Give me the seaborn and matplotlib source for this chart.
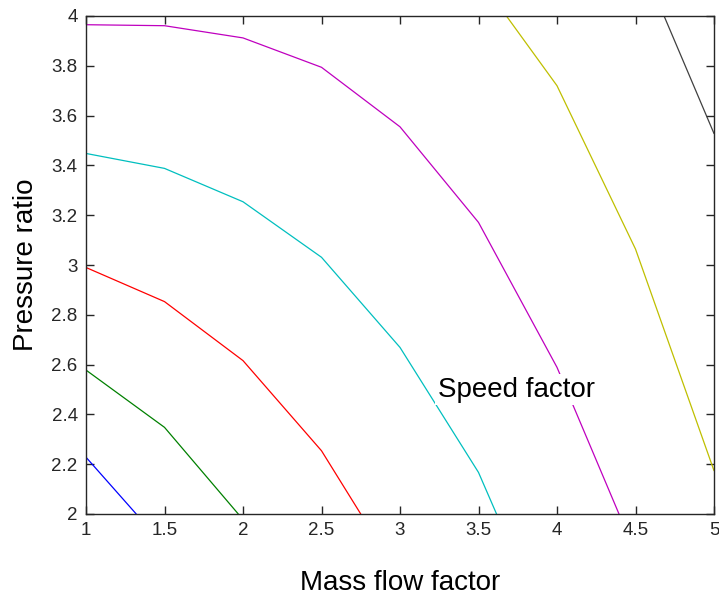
import numpy as np
import pandas as pd
import matplotlib
matplotlib.use("Agg")
import matplotlib.pyplot as plt
import seaborn as sns

# Constant-speed lines of the compressor map: vertices in (mass flow factor, pressure ratio)
speed_levels = ["s1", "s2", "s3", "s4", "s5", "s6", "s7"]
flow_s1 = [1.0, 1.32]
pr_s1 = [2.228, 2.0]
flow_s2 = [1.0, 1.5, 1.97]
pr_s2 = [2.578, 2.348, 2.0]
flow_s3 = [1.0, 1.5, 2.0, 2.5, 2.75]
pr_s3 = [2.99, 2.853, 2.616, 2.254, 2.0]
flow_s4 = [1.0, 1.5, 2.0, 2.5, 3.0, 3.5, 3.615]
pr_s4 = [3.448, 3.388, 3.254, 3.031, 2.669, 2.167, 2.0]
flow_s5 = [1.0, 1.5, 2.0, 2.5, 3.0, 3.5, 4.0, 4.395]
pr_s5 = [3.965, 3.961, 3.912, 3.794, 3.555, 3.171, 2.589, 2.0]
flow_s6 = [3.678, 4.0, 4.5, 5.0]
pr_s6 = [4.0, 3.72, 3.064, 2.174]
flow_s7 = [4.682, 5.0]
pr_s7 = [4.0, 3.528]

line_colors = [(0, 0, 1), (0, 0.5, 0), (1, 0, 0), (0, 0.75, 0.75),
               (0.75, 0, 0.75), (0.75, 0.75, 0), (0.25, 0.25, 0.25)]

flows = [flow_s1, flow_s2, flow_s3, flow_s4, flow_s5, flow_s6, flow_s7]
prs = [pr_s1, pr_s2, pr_s3, pr_s4, pr_s5, pr_s6, pr_s7]
frames = []
for name, f, p in zip(speed_levels, flows, prs):
    frames.append(pd.DataFrame({"flow": f, "pr": p, "speed": name,
                                "order": np.arange(len(f))}))
df = pd.concat(frames, ignore_index=True)

sns.set_theme(style="white")
plt.rcParams["font.family"] = ["Liberation Sans", "DejaVu Sans"]

fig = plt.figure(figsize=(7.19, 5.96), dpi=100)
ax = fig.add_axes([86 / 719, 1 - 514 / 596, 628 / 719, 498 / 596])

sns.lineplot(data=df, x="flow", y="pr", hue="speed", units="speed",
             estimator=None, sort=False, palette=line_colors,
             hue_order=speed_levels, linewidth=0.9, legend=False, ax=ax)

ax.set_xlim(1, 5)
ax.set_ylim(2, 4)
xt = np.arange(1, 5.01, 0.5)
yt = np.arange(2, 4.01, 0.2)
ax.set_xticks(xt)
ax.set_yticks(yt)
ax.set_xticklabels([f"{v:g}" for v in xt])
ax.set_yticklabels([f"{round(v, 1):g}" for v in yt])
ax.tick_params(axis="both", which="both", direction="in", length=6, width=1,
               color="#262626", labelsize=13.5, labelcolor="#262626",
               top=True, right=True, bottom=True, left=True, pad=6)
for s in ax.spines.values():
    s.set_color("#262626")
    s.set_linewidth(1.0)

ax.set_xlabel("Mass flow factor", fontsize=20, color="black", labelpad=22)
ax.set_ylabel("Pressure ratio", fontsize=20, color="black", labelpad=9)

ax.text(3.74, 2.5, "Speed factor", fontsize=20, color="black",
        ha="center", va="center",
        bbox=dict(boxstyle="square,pad=0.08", facecolor="white",
                  edgecolor="none"))

fig.savefig("out.png", dpi=100)
